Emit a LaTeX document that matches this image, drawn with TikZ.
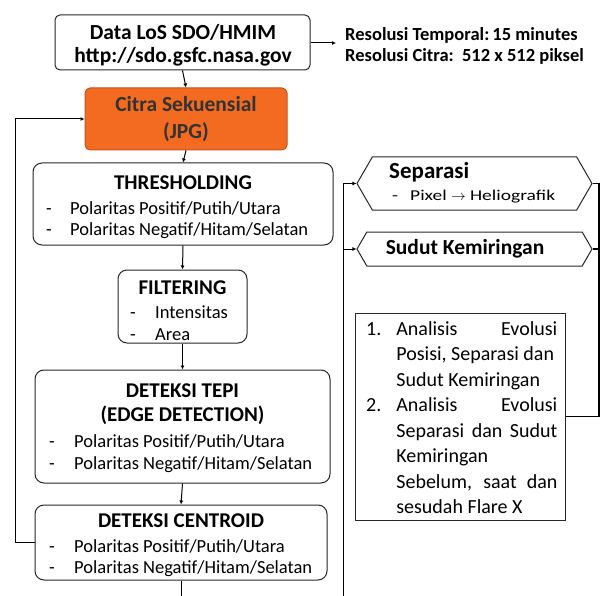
\documentclass[tikz,border=0pt]{standalone}
\usepackage{fontspec}
\setmainfont{Carlito}
\newfontfamily\widefont[FakeStretch=1.3]{Carlito}
\usetikzlibrary{arrows.meta,shapes.symbols}
\definecolor{orfill}{HTML}{F26B21}
\definecolor{ordraw}{HTML}{C4521C}
\begin{document}
\begin{tikzpicture}[x=1pt,y=-1pt,
  box/.style={draw=black!85,line width=1pt,rounded corners=9pt,inner sep=0pt},
  hdr/.style={font=\bfseries\fontsize{21}{24}\selectfont,inner sep=0pt},
  itm/.style={font=\fontsize{18.5}{20}\selectfont,inner sep=0pt,anchor=west},
  sig/.style={draw=black!85,line width=1pt,shape=signal,signal to=west and east,signal pointer angle=120,inner sep=0pt},
  arr/.style={line width=1pt,-{Latex[length=4pt,width=4pt]}},
  ln/.style={line width=1pt},
  thick ln/.style={line width=1.8pt}
]
\useasboundingbox (0,0) rectangle (602,596);

% top box
\node[box,rounded corners=5pt,minimum width=255pt,minimum height=55pt] (data) at (182.5,42.5) {};
\node[align=center,inner sep=0pt,font=\bfseries\fontsize{21.5}{23}\selectfont] (datat) at (183,45)
  {Data LoS SDO/HMIM\\http://sdo.gsfc.nasa.gov};
\coordinate (resarr) at (336,43);
\node[font=\bfseries\fontsize{18.5}{21}\selectfont,anchor=west,align=left,inner sep=0pt] (res) at (345,46)
  {Resolusi Temporal:\,15 minutes\\Resolusi Citra:\ \ 512 x 512 piksel};

% orange
\node[box,draw=ordraw,fill=orfill,rounded corners=5pt,minimum width=202pt,minimum height=62pt,align=center,
  font=\bfseries\fontsize{21.5}{27}\selectfont,text=black!80] (cit) at (186,119) {Citra Sekuensial\\(JPG)};

% thresholding
\node[box,minimum width=300pt,minimum height=82pt] (thr) at (183,204) {};
\node[hdr] (thrh) at (183,183) {THRESHOLDING};
\node[itm] (thr1) at (46,208) {\makebox[24pt][l]{-}Polaritas Positif/Putih/Utara};
\node[itm] (thr2) at (46,231) {\makebox[24pt][l]{-}Polaritas Negatif/Hitam/Selatan};

% filtering
\node[box,minimum width=129pt,minimum height=73pt] (fil) at (182.5,306.5) {};
\node[hdr] (filh) at (182.5,288) {FILTERING};
\node[itm] (fil1) at (130,312) {\makebox[25pt][l]{-}Intensitas};
\node[itm] (fil2) at (130,335) {\makebox[25pt][l]{-}Area};

% deteksi tepi
\node[box,minimum width=295pt,minimum height=113pt] (tep) at (182.5,426.5) {};
\node[hdr] (teph1) at (182.5,391) {DETEKSI TEPI};
\node[hdr] (teph2) at (182.5,415) {(EDGE DETECTION)};
\node[itm] (tep1) at (49,441) {\makebox[25pt][l]{-}Polaritas Positif/Putih/Utara};
\node[itm] (tep2) at (49,465) {\makebox[25pt][l]{-}Polaritas Negatif/Hitam/Selatan};

% deteksi centroid
\node[box,minimum width=292pt,minimum height=75pt] (cen) at (181,542.5) {};
\node[hdr] (cenh) at (181,521) {DETEKSI CENTROID};
\node[itm] (cen1) at (49,546) {\makebox[25pt][l]{-}Polaritas Positif/Putih/Utara};
\node[itm] (cen2) at (49,569) {\makebox[25pt][l]{-}Polaritas Negatif/Hitam/Selatan};

% right side
\node[sig,minimum width=235pt,minimum height=53pt] (sep) at (474.5,183.5) {};
\node[font=\bfseries\fontsize{23}{26}\selectfont,anchor=west,inner sep=0pt] (seph) at (389,172) {Separasi};
\node[font=\widefont\fontsize{15}{18}\selectfont,anchor=west,inner sep=0pt] (sep1) at (392,197) {\makebox[18pt][l]{-}Pixel \ensuremath{\rightarrow} Heliografik};

\node[sig,minimum width=235pt,minimum height=34pt] (sud) at (474.5,249) {};
\node[font=\bfseries\fontsize{21.5}{24}\selectfont,inner sep=0pt] (sudh) at (465,249) {Sudut Kemiringan};

\node[draw=black!85,line width=1pt,minimum width=210pt,minimum height=207pt,inner sep=0pt] (ana) at (460,416.5) {};
\node[font=\fontsize{20}{25.5}\selectfont,inner sep=0pt,anchor=north west] (anat) at (366,317) {%
\begin{tabular}{@{}l@{\hspace{15pt}}l@{}}
1. & \makebox[161pt][s]{Analisis \hfill Evolusi}\\
   & Posisi, Separasi dan\\
   & Sudut Kemiringan\\
2. & \makebox[161pt][s]{Analisis \hfill Evolusi}\\
   & \makebox[161pt][s]{Separasi dan Sudut}\\
   & Kemiringan\\
   & \makebox[161pt][s]{Sebelum, saat dan}\\
   & sesudah Flare X
\end{tabular}};

% connectors
\draw[arr] (data.east |- resarr) -- (resarr);
\draw[arr] (data.south) -- (cit.north);
\draw[arr] (cit.south) -- (thr.north);
\draw[arr] (thr.south) -- (fil.north);
\draw[arr] (fil.south) -- (tep.north);
\draw[arr] (tep.south) -- (cen.north);
\coordinate (bot) at (181,596);
\draw[ln] (cen.south) -- (bot);

\coordinate (lx) at (15,0);
\draw[arr] (cen.west) -- (cen.west -| lx) |- (cit.west);

\coordinate (bx) at (343,596);
\draw[ln] (bx) -- (bx |- sep.west);
\draw[arr] (bx |- sep.west) -- (sep.west);
\draw[arr] (bx |- sud.west) -- (sud.west);

\coordinate (rx) at (599,0);
\draw[thick ln] (sep.east) -- (sep.east -| rx) -- (rx |- ana.east) -- (ana.east);
\draw[thick ln] (sud.east) -- (sud.east -| rx);
\end{tikzpicture}
\end{document}
